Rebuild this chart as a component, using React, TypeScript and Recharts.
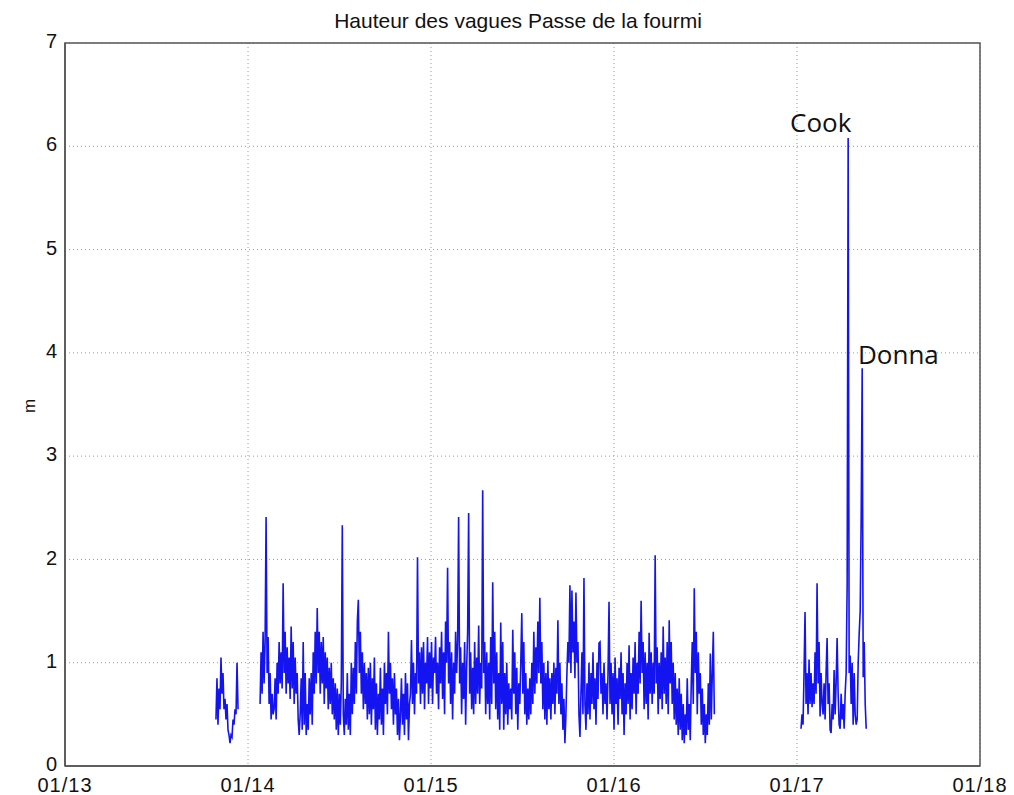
import { LineChart, Line, XAxis, YAxis, CartesianGrid, ReferenceArea, ReferenceDot } from 'recharts';

// one sample every two days, in years
const STEP = 2 / 365;

// first buoy deployment, end of 2013
const seg1Start = 2013.825;
const seg1 = [
  0.45, 0.85, 0.4, 0.75, 0.55, 1.05, 0.7, 0.9, 0.55, 0.65,
  0.45, 0.6, 0.35, 0.3, 0.22, 0.3, 0.28, 0.45, 0.4, 0.55,
  0.5, 1.0, 0.55,
];

// long record 2014 - mid 2016
const seg2Start = 2014.066;
const seg2 = [
  0.6, 1.1, 0.7, 1.3, 0.8, 1.2, 2.41, 0.9, 1.25, 0.6,
  0.9, 0.45, 0.7, 0.5, 0.55, 0.85, 0.45, 1.0, 0.7, 1.2,
  0.8, 1.1, 0.75, 1.77, 0.9, 1.3, 0.7, 1.15, 0.8, 1.05,
  0.65, 1.35, 0.75, 1.2, 0.6, 1.05, 0.7, 0.9, 0.45, 0.3,
  0.5, 0.85, 0.35, 1.2, 0.4, 0.9, 0.3, 0.6, 0.35, 0.85,
  0.5, 0.9, 0.4, 1.1, 0.7, 1.3, 0.8, 1.53, 0.9, 1.3,
  0.7, 1.2, 0.8, 1.25, 0.6, 1.1, 0.75, 1.05, 0.55, 0.95,
  0.6, 1.0, 0.5, 0.85, 0.45, 0.8, 0.35, 0.75, 0.3, 0.7,
  0.4, 0.8, 2.33, 0.5, 0.3, 0.65, 0.4, 0.9, 0.35, 0.7,
  0.3, 1.0, 0.5, 0.95, 0.6, 1.2, 0.7, 1.4, 1.61, 0.9,
  1.3, 0.7, 1.1, 0.55, 1.0, 0.6, 0.9, 0.45, 0.95, 0.5,
  1.0, 0.4, 0.85, 0.55, 1.05, 0.35, 0.8, 0.3, 0.7, 0.45,
  0.95, 0.4, 0.75, 0.3, 1.0, 0.6, 0.9, 0.5, 1.3, 0.7,
  1.0, 0.55, 0.85, 0.4, 0.9, 0.5, 0.75, 0.3, 0.65, 0.25,
  0.5, 0.85, 0.4, 0.7, 0.3, 0.9, 0.45, 0.8, 0.25, 0.6,
  0.7, 1.22, 0.6, 1.0, 0.5, 0.9, 0.7, 2.02, 0.8, 1.1,
  0.6, 1.15, 0.7, 1.2, 0.55, 1.0, 0.8, 1.25, 0.6, 1.1,
  0.75, 1.2, 0.6, 1.05, 0.9, 1.25, 0.7, 1.0, 0.55, 1.15,
  0.8, 1.3, 0.65, 1.1, 0.5, 1.4, 1.0, 1.92, 0.8, 1.2,
  0.6, 1.1, 0.45, 1.0, 0.7, 1.3, 0.9, 1.2, 2.41, 0.8,
  1.15, 0.5, 1.0, 0.65, 1.2, 0.4, 0.95, 1.3, 2.45, 0.7,
  1.1, 0.55, 0.95, 0.5, 1.2, 0.6, 1.05, 0.7, 1.36, 0.6,
  1.0, 0.75, 2.67, 0.9, 1.2, 0.5, 1.1, 0.6, 1.0, 0.45,
  1.25, 0.6, 1.78, 0.8, 1.3, 0.55, 1.1, 0.45, 0.9, 0.35,
  1.39, 0.6, 1.2, 0.35, 0.9, 0.5, 1.0, 0.4, 0.8, 0.55,
  0.75, 0.45, 1.32, 0.7, 1.1, 0.5, 0.95, 0.35, 0.8, 0.6,
  1.0, 1.48, 0.7, 1.2, 0.5, 0.9, 0.4, 0.75, 0.45, 0.85,
  0.5, 1.0, 0.6, 1.3, 0.7, 1.15, 0.8, 1.4, 0.9, 1.63,
  0.8, 1.2, 0.55, 1.0, 0.45, 0.9, 0.4, 1.02, 0.55, 0.85,
  0.45, 0.9, 0.6, 1.0, 0.5, 0.95, 0.7, 1.41, 0.6, 1.0,
  0.5, 0.8, 0.35, 0.65, 0.22, 0.5, 0.9, 1.2, 1.0, 1.75,
  0.9, 1.7, 1.1, 1.4, 0.85, 1.68, 1.0, 1.2, 0.5, 0.28,
  0.7, 1.1, 0.5, 1.82, 0.6, 0.35, 0.8, 0.5, 1.0, 0.45,
  0.9, 0.6, 1.1, 0.55, 0.85, 0.4, 1.0, 0.65, 1.19, 1.2,
  0.7, 0.9, 0.5, 1.0, 0.6, 0.8, 0.45, 0.9, 1.59, 0.6,
  1.0, 0.5, 0.9, 0.35, 1.05, 0.6, 0.85, 0.4, 0.95, 0.65,
  1.1, 0.5, 0.9, 0.3, 0.8, 0.5, 1.0, 0.6, 1.17, 0.45,
  0.9, 0.55, 1.05, 0.7, 1.2, 0.5, 1.0, 0.7, 1.3, 0.8,
  1.6, 0.9, 1.2, 0.55, 1.1, 0.6, 1.0, 0.45, 1.29, 0.7,
  1.1, 0.6, 1.0, 0.7, 2.04, 0.8, 1.15, 0.5, 1.0, 0.65,
  1.1, 0.55, 1.35, 0.7, 1.05, 0.6, 1.2, 0.5, 1.41, 0.8,
  1.2, 0.6, 1.0, 0.45, 0.9, 0.4, 0.75, 0.3, 0.85, 0.35,
  0.7, 0.25, 0.6, 0.22, 0.5, 0.3, 0.85, 0.35, 0.6, 0.25,
  0.8, 1.2, 0.6, 1.72, 0.9, 1.3, 0.5, 1.1, 0.7, 0.9,
  0.4, 0.75, 0.3, 0.6, 0.22, 0.5, 0.3, 0.8, 0.4, 1.09,
  0.45, 0.9, 1.3, 0.5,
];

// 2017 record with cyclones Cook and Donna
const seg3Start = 2017.022;
const seg3 = [
  0.36, 0.5, 0.4, 0.9, 1.49, 0.6, 0.9, 0.5, 1.03, 0.6,
  0.9, 0.57, 0.8, 0.6, 1.1, 0.7, 1.77, 0.8, 1.2, 0.48,
  0.9, 0.6, 0.5, 0.8, 0.45, 0.9, 1.24, 0.6, 0.8, 0.35,
  0.32, 0.6, 0.45, 0.93, 0.5, 0.8, 1.24, 0.7, 0.4, 0.36,
  0.7, 0.45, 0.6, 0.36, 0.7, 0.9, 1.75, 6.08, 0.9, 1.07,
  0.6, 1.0, 0.4, 0.9, 0.5, 0.4, 0.45, 1.0, 1.28, 1.5,
  2.42, 3.85, 0.86, 1.2, 0.6, 0.36,
];

const yearTicks = [2013, 2014, 2015, 2016, 2017, 2018];
const yearLabels = ['01/13', '01/14', '01/15', '01/16', '01/17', '01/18'];
const heightTicks = [0, 1, 2, 3, 4, 5, 6, 7];

const storms = [
  { name: 'Cook', t: 2016.962, h: 6.14 },
  { name: 'Donna', t: 2017.333, h: 3.89 },
];

const toRows = (start: number, values: number[]) =>
  values.map((h, i) => ({ t: start + i * STEP, h }));

// null rows break the line where the buoy was out of the water
const rows = [
  ...toRows(seg1Start, seg1),
  { t: 2014.0, h: null },
  ...toRows(seg2Start, seg2),
  { t: 2016.7, h: null },
  ...toRows(seg3Start, seg3),
];

const axisFont = {
  fontFamily: 'Liberation Sans, Arial, sans-serif',
  fontSize: 20,
  fill: '#111',
};

export default function App() {
  return (
    <div style={{ position: 'relative', width: 1000, height: 787 }}>
      <div
        style={{
          position: 'absolute',
          top: 0,
          left: 510,
          transform: 'translateX(-50%)',
          whiteSpace: 'nowrap',
          fontFamily: 'Liberation Sans, Arial, sans-serif',
          fontSize: 21,
          lineHeight: '26px',
          color: '#111',
        }}
      >
        Hauteur des vagues Passe de la fourmi
      </div>
      <div
        style={{
          position: 'absolute',
          left: 15,
          top: 388,
          transform: 'rotate(-90deg)',
          fontFamily: 'Liberation Sans, Arial, sans-serif',
          fontSize: 17,
          color: '#111',
        }}
      >
        m
      </div>
      <LineChart width={1000} height={787} data={rows} margin={{ top: 35, right: 28, left: 17, bottom: 0 }}>
        <CartesianGrid stroke="#9a9a9a" strokeDasharray="1 3" />
        <XAxis
          dataKey="t"
          type="number"
          domain={[2013, 2018]}
          ticks={yearTicks}
          tickFormatter={(v: number) => yearLabels[yearTicks.indexOf(v)]}
          tickLine={false}
          axisLine={{ stroke: '#555', strokeWidth: 1.5 }}
          tick={{ ...axisFont, letterSpacing: 1, dy: 4 }}
          height={29}
          allowDataOverflow
        />
        <YAxis
          type="number"
          domain={[0, 7]}
          ticks={heightTicks}
          tickLine={false}
          axisLine={{ stroke: '#555', strokeWidth: 1.5 }}
          tick={{ ...axisFont, dy: -2 }}
          width={40}
          allowDataOverflow
        />
        <ReferenceArea x1={2013} x2={2018} y1={0} y2={7} fill="none" stroke="#555" strokeWidth={1.5} />
        <Line
          type="linear"
          dataKey="h"
          stroke="#1414f0"
          strokeWidth={1.6}
          dot={false}
          isAnimationActive={false}
        />
        {storms.map((s) => (
          <ReferenceDot
            key={s.name}
            x={s.t}
            y={s.h}
            r={1}
            shape={(p: any) => (
              <text
                x={p.cx}
                y={p.cy}
                fontFamily="Open Sans, Lato, sans-serif"
                fontSize={26}
                fill="#111"
              >
                {s.name}
              </text>
            )}
          />
        ))}
      </LineChart>
    </div>
  );
}
